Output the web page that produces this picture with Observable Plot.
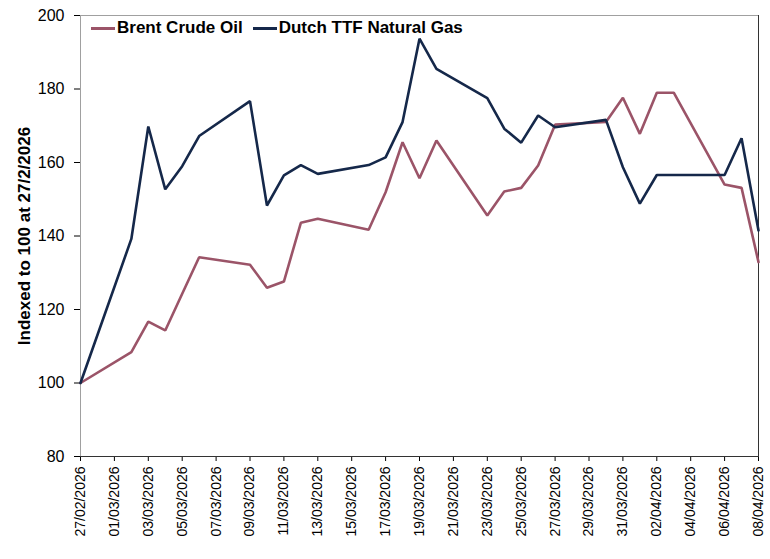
<!DOCTYPE html>
<html>
<head>
<meta charset="utf-8">
<script src="https://cdn.jsdelivr.net/npm/d3@7"></script>
<script src="https://cdn.jsdelivr.net/npm/@observablehq/plot@0.6"></script>
<style>
  body { margin: 0; background: #fff; font-family: "Liberation Sans", Arial, sans-serif; }
  #wrap { position: relative; width: 770px; height: 559px; }
  #legend { position: absolute; left: 91px; top: 18px; display: flex; align-items: center; font-weight: bold; font-size: 17px; color: #000; }
  .item { display: flex; align-items: center; margin-right: 10px; }
  .sw { width: 24px; height: 0; border-top: 3px solid; margin-right: 2px; }
</style>
</head>
<body>
<div id="wrap"><div id="legend"></div></div>
<script>
const dates = ["27/02/2026","02/03/2026","03/03/2026","04/03/2026","05/03/2026","06/03/2026","09/03/2026","10/03/2026","11/03/2026","12/03/2026","13/03/2026","16/03/2026","17/03/2026","18/03/2026","19/03/2026","20/03/2026","23/03/2026","24/03/2026","25/03/2026","26/03/2026","27/03/2026","30/03/2026","31/03/2026","01/04/2026","02/04/2026","03/04/2026","06/04/2026","07/04/2026","08/04/2026"];
const brent = [100, 108.4, 116.7, 114.3, 124.3, 134.2, 132.2, 125.9, 127.6, 143.6, 144.7, 141.7, 151.9, 165.5, 155.7, 166, 145.6, 152.1, 153.1, 159.2, 170.3, 171, 177.6, 167.8, 179, 179, 154, 153.1, 132.9];
const ttf = [100, 139.2, 169.8, 152.7, 159, 167.2, 176.7, 148.3, 156.5, 159.3, 156.9, 159.3, 161.4, 171, 193.7, 185.5, 177.5, 169.2, 165.4, 172.8, 169.6, 171.6, 158.7, 148.8, 156.6, 156.6, 156.6, 166.6, 141.5];
const xTickLabels = ["27/02/2026","01/03/2026","03/03/2026","05/03/2026","07/03/2026","09/03/2026","11/03/2026","13/03/2026","15/03/2026","17/03/2026","19/03/2026","21/03/2026","23/03/2026","25/03/2026","27/03/2026","29/03/2026","31/03/2026","02/04/2026","04/04/2026","06/04/2026","08/04/2026"];
const yTicks = [80, 100, 120, 140, 160, 180, 200];
const seriesNames = ["Brent Crude Oil", "Dutch TTF Natural Gas"];
const seriesColors = ["#9b5468", "#15284a"];

const parse = d3.utcParse("%d/%m/%Y");
const data = [];
dates.forEach((d, i) => {
  data.push({date: parse(d), value: brent[i], series: seriesNames[0]});
  data.push({date: parse(d), value: ttf[i], series: seriesNames[1]});
});
const xTicks = xTickLabels.map(parse);

const chart = Plot.plot({
  width: 770,
  height: 559,
  marginLeft: 80,
  marginRight: 12,
  marginTop: 15,
  marginBottom: 103,
  style: {fontFamily: "'Liberation Sans', Arial, sans-serif", fontSize: "15px", color: "#000", background: "#fff"},
  x: {type: "utc", domain: [xTicks[0], xTicks[xTicks.length - 1]]},
  y: {domain: [80, 200]},
  color: {domain: seriesNames, range: seriesColors},
  marks: [
    Plot.frame({stroke: "#a0a0a0"}),
    Plot.axisY({ticks: yTicks, tickSize: 6, tickPadding: 10, label: null, fontSize: 16}),
    Plot.axisY({ticks: [], tickSize: 0, label: "Indexed to 100 at 27/2/2026", labelAnchor: "center", labelArrow: "none", labelOffset: 63, fontSize: 17}),
    Plot.axisX({ticks: xTicks, tickFormat: d3.utcFormat("%d/%m/%Y"), tickRotate: -90, tickSize: 5, tickPadding: 5, label: null, fontSize: 14}),
    Plot.ruleY([80], {stroke: "#333"}),
    Plot.frame({anchor: "right", stroke: "#333"}),
    Plot.line(data, {x: "date", y: "value", z: "series", stroke: "series", strokeWidth: 2.6, strokeLinejoin: "miter"})
  ]
});
chart.querySelectorAll("[aria-label='y-axis label']").forEach(g => g.setAttribute("font-weight", "bold"));
document.getElementById("wrap").prepend(chart);
chart.style.position = "absolute"; chart.style.left = "0"; chart.style.top = "0";

const legend = document.getElementById("legend");
seriesNames.forEach((n, i) => {
  const it = document.createElement("div"); it.className = "item";
  const sw = document.createElement("span"); sw.className = "sw"; sw.style.borderColor = seriesColors[i];
  const t = document.createElement("span"); t.textContent = n;
  it.append(sw, t); legend.append(it);
});
</script>
</body>
</html>
